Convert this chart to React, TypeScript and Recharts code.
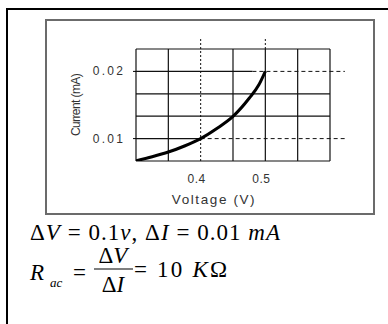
import React from 'react';
import { LineChart, Line, XAxis, YAxis, ReferenceLine } from 'recharts';

// diode curve
const voltage = [0.3, 0.325, 0.35, 0.375, 0.4, 0.425, 0.45, 0.475, 0.49, 0.5];
const current = [0.0067, 0.0073, 0.008, 0.0089, 0.01, 0.0115, 0.0133, 0.016, 0.018, 0.02];

const xTicks = [0.4, 0.5];
const yTicks = [0.01, 0.02];

// grid (0.4 column has only the dotted guide)
const gridVoltage = [0.3, 0.35, 0.45, 0.5, 0.55, 0.6];
const gridCurrent = [0.0066667, 0.0133333, 0.0166667, 0.0233333];

const vMin = 0.3;
const vMax = 0.6;
const iMin = 0.0066667;
const iMax = 0.0233333;

// guides: dashed to the right, dotted upward
const guideCurrent = [0.01, 0.02];
const guideStart = [0.4, 0.48];
const guideEnd = 0.623;
const guideVoltage = [0.4, 0.5];
const guideTop = 0.0251;

const data = voltage.map((v, k) => ({ v, i: current[k] }));

const sans = '"Liberation Sans", Arial, sans-serif';
const serif = '"Liberation Serif", "Times New Roman", serif';

const YTick = (props: any) => {
  const { x, y, payload } = props;
  return (
    <text x={x} y={y} dy={4} textAnchor="end" fill="#333" fontSize={12} fontFamily={sans} letterSpacing={2.2}>
      {payload.value}
    </text>
  );
};

export default function App() {
  return (
    <div style={{ position: 'absolute', left: 0, top: 0, width: 388, height: 324, background: '#fff', overflow: 'hidden' }}>
      <div style={{ position: 'absolute', left: 6, top: 8, width: 382, height: 316, borderTop: '2px solid #000', borderLeft: '2px solid #000' }} />
      <div style={{ position: 'absolute', left: 45, top: 19, width: 326, height: 192, border: '2px solid #6b6b6b' }} />

      <div style={{ position: 'absolute', left: 0, top: 0 }}>
        <LineChart width={388} height={324} data={data} margin={{ top: 49, right: 58, left: 86, bottom: 143 }}>
          <XAxis
            dataKey="v"
            type="number"
            domain={[vMin, vMax]}
            ticks={xTicks}
            allowDataOverflow
            axisLine={false}
            tickLine={false}
            tickMargin={7}
            height={20}
            tick={{ fill: '#333', fontSize: 12, fontFamily: sans, dx: -4, letterSpacing: 0.5 }}
          />
          <YAxis
            type="number"
            domain={[iMin, iMax]}
            ticks={yTicks}
            allowDataOverflow
            axisLine={false}
            tickLine={{ stroke: '#000' }}
            tickSize={3}
            tickMargin={8}
            width={50}
            tick={<YTick />}
          />

          {gridVoltage.map((v) => (
            <ReferenceLine key={'gx' + v} x={v} stroke="#111" strokeWidth={1.2} />
          ))}
          {gridCurrent.map((c) => (
            <ReferenceLine key={'gy' + c} y={c} stroke="#111" strokeWidth={1.2} />
          ))}
          {guideCurrent.map((c, k) => (
            <ReferenceLine
              key={'sy' + c}
              segment={[{ x: vMin, y: c }, { x: guideStart[k], y: c }]}
              stroke="#111"
              strokeWidth={1.2}
            />
          ))}
          {guideCurrent.map((c, k) => (
            <ReferenceLine
              key={'dy' + c}
              segment={[{ x: guideStart[k], y: c }, { x: guideEnd, y: c }]}
              stroke="#111"
              strokeWidth={1}
              strokeDasharray="4 3"
              ifOverflow="visible"
            />
          ))}
          {guideVoltage.map((v) => (
            <ReferenceLine
              key={'dx' + v}
              segment={[{ x: v, y: v === 0.4 ? iMin : iMax }, { x: v, y: guideTop }]}
              stroke="#111"
              strokeWidth={1}
              strokeDasharray="2 2"
              ifOverflow="visible"
            />
          ))}

          <Line dataKey="i" type="monotone" stroke="#000" strokeWidth={3} dot={false} isAnimationActive={false} />
        </LineChart>
      </div>

      <svg width={388} height={324} style={{ position: 'absolute', left: 0, top: 0, pointerEvents: 'none' }}>
        <text
          transform="translate(76,105) rotate(-90)"
          textAnchor="middle"
          dominantBaseline="central"
          fill="#333"
          fontSize={12}
          fontFamily={sans}
          letterSpacing={-0.6}
        >
          Current (mA)
        </text>
        <text x={214} y={204} textAnchor="middle" fill="#333" fontSize={13.5} fontFamily={sans} letterSpacing={1.6}>
          Voltage (V)
        </text>

        <text x={30} y={240} fontFamily={serif} fontSize={23} fill="#000" textLength={250} lengthAdjust="spacing">
          <tspan>Δ</tspan>
          <tspan fontStyle="italic">V</tspan>
          <tspan> = 0.1</tspan>
          <tspan fontStyle="italic">v</tspan>
          <tspan>, Δ</tspan>
          <tspan fontStyle="italic">I</tspan>
          <tspan> = 0.01 </tspan>
          <tspan fontStyle="italic">mA</tspan>
        </text>

        <text x={30} y={280} fontFamily={serif} fontSize={23} fontStyle="italic" fill="#000">R</text>
        <text x={50} y={287} fontFamily={serif} fontSize={13} fontStyle="italic" fill="#000">ac</text>
        <text x={73} y={280} fontFamily={serif} fontSize={23} fill="#000">=</text>
        <text x={113} y={263} textAnchor="middle" fontFamily={serif} fontSize={23} fill="#000">
          Δ<tspan fontStyle="italic">V</tspan>
        </text>
        <line x1={94} x2={133} y1={269} y2={269} stroke="#000" strokeWidth={1.2} />
        <text x={113} y={292} textAnchor="middle" fontFamily={serif} fontSize={23} fill="#000">
          Δ<tspan fontStyle="italic">I</tspan>
        </text>
        <text x={134} y={277} fontFamily={serif} fontSize={23} fill="#000" textLength={93} lengthAdjust="spacing">
          = 10 <tspan fontStyle="italic">K</tspan>Ω
        </text>
      </svg>
    </div>
  );
}
